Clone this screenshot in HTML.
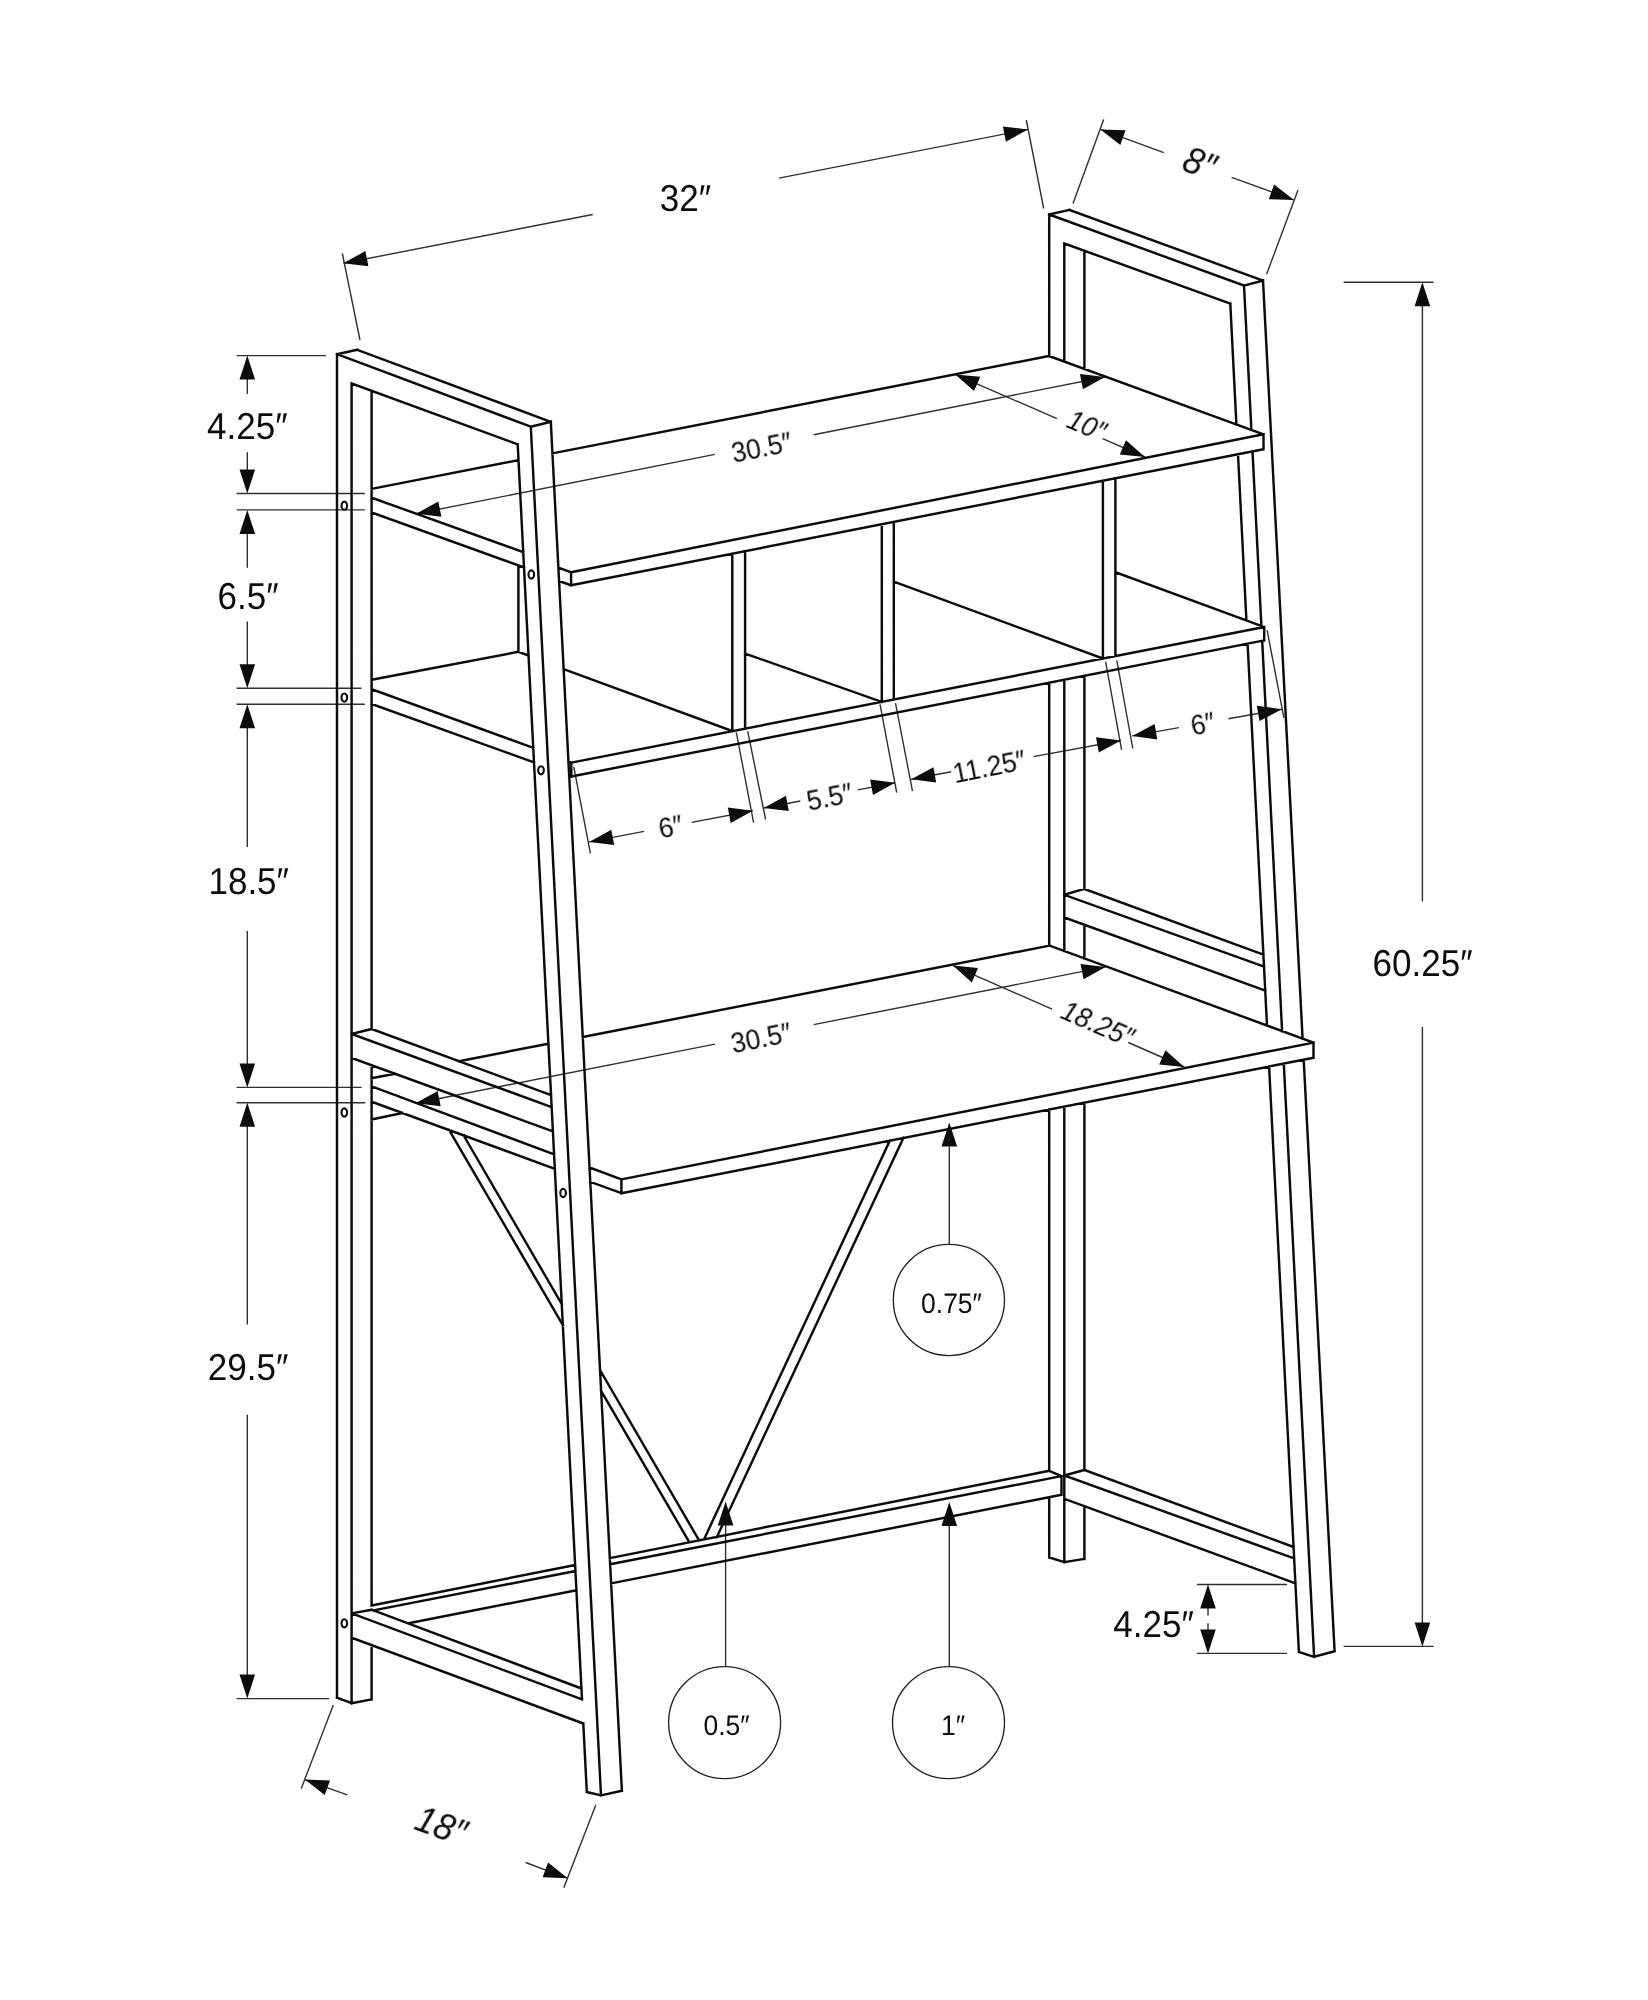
<!DOCTYPE html>
<html lang="en"><head><meta charset="utf-8"><title>Ladder desk dimensions</title>
<style>
html,body{margin:0;padding:0;background:#fff}
svg{display:block}
.k{fill:none;stroke:#0c0c0c;stroke-width:2.45;stroke-linecap:square;stroke-linejoin:miter}
.n{fill:none;stroke:#303030;stroke-width:1.4}
.a{fill:#0c0c0c;stroke:none}
.h{fill:none;stroke:#0c0c0c;stroke-width:2.1}
.c{fill:none;stroke:#222;stroke-width:1.35}
text{font-family:"Liberation Sans",Arial,sans-serif;fill:#0c0c0c;text-anchor:middle;text-rendering:geometricPrecision}
.i{font-style:italic}
</style></head><body>
<svg width="1648" height="2000" viewBox="0 0 1648 2000">
<rect width="1648" height="2000" fill="#fff"/>
<path class="n" d="M342.3 253.3L360.0 340.0M1026.3 120.0L1043.7 208.5M343.3 263.3L592.7 214.5M779.0 178.1L1028.0 129.4M1103.7 119.4L1073.0 203.5M1298.0 190.1L1266.6 274.2M1100.4 129.4L1163.8 152.6M1231.6 177.3L1294.0 200.1M236.6 355.6L326.0 355.6M236.6 493.5L364.8 493.5M236.6 509.9L364.8 509.9M236.6 688.3L361.5 688.3M236.6 704.2L364.8 704.2M236.6 1087.4L361.6 1087.4M236.6 1102.7L365.2 1102.7M236.6 1698.6L329.2 1698.6M247.3 378.6L247.3 394.1M247.3 452.3L247.3 470.5M247.3 532.9L247.3 567.7M247.3 621.6L247.3 665.3M247.3 727.2L247.3 846.9M247.3 931.0L247.3 1064.4M247.3 1125.7L247.3 1324.4M247.3 1414.7L247.3 1675.6M1343.6 282.2L1433.6 282.2M1343.6 1646.4L1433.6 1646.4M1422.4 305.2L1422.4 901.5M1422.4 1027.0L1422.4 1623.4M1196.9 1584.5L1287.0 1584.5M1196.9 1653.4L1287.0 1653.4M1208.0 1607.0L1208.0 1615.5M1208.0 1623.3L1208.0 1630.5M333.3 1705.0L301.3 1788.4M595.8 1804.9L563.8 1887.7M304.8 1779.6L347.2 1794.9M525.6 1862.5L567.8 1878.3M416.3 513.7L714.9 454.4M813.7 434.8L1105.0 377.0M955.2 374.4L1057.0 418.7M1102.6 438.6L1144.9 457.0M573.8 766.8L590.4 853.4M736.3 732.4L753.6 822.7M747.7 731.1L765.6 819.5M589.2 841.9L644.1 831.4M691.7 822.4L752.8 810.7M763.8 808.0L800.3 801.0M857.8 789.9L895.1 782.7M880.0 704.4L896.7 792.5M895.5 703.1L912.5 791.2M911.2 779.2L951.2 771.8M1033.5 756.6L1121.0 740.5M1105.6 661.7L1121.6 749.8M1116.8 660.3L1132.8 748.5M1132.3 735.9L1179.0 727.6M1228.4 718.7L1281.8 709.2M1267.1 630.2L1283.9 717.8M415.6 1103.2L714.9 1044.1M813.7 1024.6L1105.6 966.9M952.9 965.6L1052.1 1009.1M1128.3 1042.5L1184.3 1067.0M949.3 1144.5L949.3 1244.4M725.6 1523.5L725.6 1666.6M949.3 1524.0L949.3 1666.6"/>
<path class="k" d="M337.0 354.2L357.2 349.8M357.2 349.8L550.8 421.8M550.8 421.8L530.8 426.7M530.8 426.7L337.0 354.2M351.6 383.4L517.7 444.3M337.0 354.2L337.0 1697.7M351.6 383.4L351.6 1703.2M371.6 390.7L371.6 1029.0M371.6 1065.3L371.6 1605.5M371.6 1645.1L371.6 1699.4M337.0 1697.7L351.6 1703.2M351.6 1703.2L371.6 1699.4M517.7 444.3L582.0 1699.3M583.3 1723.5L586.8 1792.0M530.8 426.7L601.0 1795.4M550.8 421.8L621.9 1790.8M586.8 1792.0L601.0 1795.4M601.0 1795.4L621.9 1790.8M371.6 497.7L523.2 552.1M371.6 512.4L524.0 567.4M371.6 689.2L533.3 747.8M371.6 703.9L534.0 762.4M371.6 1029.0L551.1 1095.1M351.6 1034.0L551.7 1107.1M351.6 1058.0L552.9 1131.3M351.6 1034.0L371.6 1029.0M351.6 1613.4L371.6 1609.8M371.6 1609.8L373.4 1610.4M373.4 1610.4L581.5 1688.5M351.6 1613.4L582.0 1699.3M351.6 1637.7L583.3 1723.5M1049.2 214.5L1069.5 209.9M1069.5 209.9L1263.0 280.6M1263.0 280.6L1244.0 285.6M1244.0 285.6L1049.2 214.5M1064.3 243.5L1230.3 303.6M1049.2 214.5L1049.2 356.1M1064.3 243.5L1064.3 361.6M1084.4 250.8L1084.4 369.0M1049.2 682.6L1049.2 945.5M1064.3 679.7L1064.3 951.0M1084.4 675.7L1084.4 888.9M1084.4 924.8L1084.4 958.4M1084.4 888.9L1263.4 954.6M1064.3 894.8L1264.0 966.6M1064.3 917.5L1265.3 990.7M1064.3 894.8L1084.4 888.9M1049.2 1109.5L1049.2 1470.8M1049.2 1498.3L1049.2 1557.5M1064.3 1106.6L1064.3 1562.1M1084.4 1102.6L1084.4 1470.0M1084.4 1506.2L1084.4 1558.9M1049.2 1557.5L1064.3 1562.1M1064.3 1562.1L1084.4 1558.9M1084.4 1470.0L1293.6 1547.0M1064.3 1475.4L1294.1 1558.4M1064.3 1498.8L1295.4 1583.3M1064.3 1475.4L1084.4 1470.0M1230.3 303.6L1236.4 424.4M1238.0 454.2L1246.4 620.5M1247.6 643.7L1267.0 1025.5M1269.1 1066.5L1298.9 1652.0M1244.0 285.6L1251.4 429.9M1252.5 451.4L1261.4 626.0M1262.2 640.8L1282.1 1031.1M1283.8 1063.6L1314.1 1656.8M1263.0 280.6L1302.6 1038.6M1303.7 1059.7L1334.6 1651.2M1298.9 1652.0L1314.1 1656.8M1314.1 1656.8L1334.6 1651.2M371.6 488.9L518.5 460.1M552.4 453.4L1048.9 356.0M1048.9 356.0L1263.5 434.3M571.1 572.3L1263.5 434.3M571.1 585.3L1263.5 449.2M571.1 572.3L571.1 585.3M1263.5 434.3L1263.5 449.2M571.1 572.3L558.4 567.6M571.1 585.3L559.1 581.0M571.3 762.6L1264.2 627.0M571.3 776.5L1264.2 640.4M571.3 762.6L571.3 776.5M1264.2 627.0L1264.2 640.4M1115.4 572.2L1261.8 626.2M571.3 762.6L568.4 761.5M571.3 776.5L569.2 775.7M371.6 679.8L518.4 651.8M518.4 566.5L518.4 651.8M518.4 651.8L528.5 655.5M732.3 553.6L732.3 731.1M745.1 551.1L745.1 728.6M881.8 524.2L881.8 701.8M893.8 521.9L893.8 699.5M1102.9 480.8L1102.9 658.6M1115.4 478.3L1115.4 656.1M732.3 731.1L563.6 669.1M881.8 701.9L745.1 653.6M1102.9 658.5L893.8 581.6M371.6 1078.3L394.9 1073.7M459.0 1061.2L548.4 1043.7M582.7 1037.0L1049.5 945.6M1049.5 945.6L1313.5 1042.6M621.4 1179.4L1313.5 1042.6M621.4 1193.2L1313.5 1057.8M621.4 1179.4L621.4 1193.2M1313.5 1042.6L1313.5 1057.8M371.6 1086.4L554.1 1154.3M589.5 1167.5L621.4 1179.4M371.6 1101.7L554.8 1168.8M590.3 1181.8L621.4 1193.2M371.6 1119.5L402.4 1113.0M371.6 1605.5L575.2 1565.0M609.8 1558.1L1049.2 1470.8M373.4 1610.4L575.5 1571.0M610.1 1564.2L1061.5 1476.1M408.6 1623.3L576.5 1590.3M611.1 1583.4L1061.5 1494.8M1049.2 1470.8L1061.5 1476.1M1061.5 1476.1L1061.5 1494.8M463.7 1135.5L561.8 1304.2M449.2 1130.1L562.9 1325.2M600.0 1370.0L699.1 1540.4M601.1 1390.9L689.4 1542.3M889.8 1140.7L704.0 1539.4M903.4 1138.0L716.9 1536.9"/>
<g><ellipse cx="344.3" cy="505.7" rx="2.8" ry="4.1" class="h"/><ellipse cx="344.3" cy="697.6" rx="2.8" ry="4.1" class="h"/><ellipse cx="344.3" cy="1112.5" rx="2.8" ry="4.1" class="h"/><ellipse cx="344.3" cy="1623.3" rx="2.8" ry="4.1" class="h"/><ellipse cx="531.3" cy="574.5" rx="2.8" ry="4.1" class="h"/><ellipse cx="541.0" cy="770.3" rx="2.8" ry="4.1" class="h"/><ellipse cx="563.1" cy="1193.0" rx="2.8" ry="4.1" class="h"/><circle cx="948.9" cy="1300.0" r="55.6" class="c"/><circle cx="724.6" cy="1722.6" r="56.0" class="c"/><circle cx="948.5" cy="1722.6" r="56.0" class="c"/></g>
<path class="a" d="M343.3 263.3L365.4 251.0L368.4 266.3ZM1028.0 129.4L1005.9 141.7L1002.9 126.4ZM1100.4 129.4L1125.6 130.3L1120.3 145.0ZM1294.0 200.1L1268.8 199.2L1274.1 184.5ZM247.3 355.6L255.1 379.6L239.5 379.6ZM247.3 493.5L239.5 469.5L255.1 469.5ZM247.3 509.9L255.1 533.9L239.5 533.9ZM247.3 688.3L239.5 664.3L255.1 664.3ZM247.3 704.2L255.1 728.2L239.5 728.2ZM247.3 1087.4L239.5 1063.4L255.1 1063.4ZM247.3 1102.7L255.1 1126.7L239.5 1126.7ZM247.3 1698.6L239.5 1674.6L255.1 1674.6ZM1422.4 282.2L1430.2 306.2L1414.6 306.2ZM1422.4 1646.4L1414.6 1622.4L1430.2 1622.4ZM1208.0 1584.5L1215.8 1608.5L1200.2 1608.5ZM1208.0 1653.4L1200.2 1629.4L1215.8 1629.4ZM304.8 1779.6L330.0 1780.4L324.7 1795.1ZM567.8 1878.3L542.6 1877.2L548.1 1862.6ZM416.3 513.7L438.3 501.4L441.4 516.7ZM1105.0 377.0L1083.0 389.3L1079.9 374.0ZM955.2 374.4L980.3 376.8L974.1 391.1ZM1144.9 457.0L1119.8 454.6L1126.0 440.3ZM589.2 841.9L611.3 829.7L614.2 845.1ZM752.8 810.7L730.7 822.9L727.8 807.5ZM763.8 808.0L785.9 795.8L788.8 811.1ZM895.1 782.7L873.0 794.9L870.1 779.6ZM911.2 779.2L933.4 767.2L936.2 782.5ZM1121.0 740.5L1098.8 752.5L1096.0 737.2ZM1132.3 735.9L1154.6 724.0L1157.3 739.4ZM1281.8 709.2L1259.5 721.1L1256.8 705.7ZM415.6 1103.2L437.6 1090.9L440.7 1106.2ZM1105.6 966.9L1083.6 979.2L1080.5 963.9ZM952.9 965.6L978.0 968.1L971.8 982.4ZM1184.3 1067.0L1159.2 1064.5L1165.4 1050.2ZM949.3 1122.5L957.1 1146.5L941.5 1146.5ZM725.6 1501.5L733.4 1525.5L717.8 1525.5ZM949.3 1502.0L957.1 1526.0L941.5 1526.0Z"/>
<g opacity="0.995">
<text x="0" y="12.4" font-size="37.5" transform="translate(685.5 198.5) scale(0.935 1)">32″</text>
<text x="0" y="12.4" font-size="37.5" class="i" transform="translate(1199.3 163.7) rotate(20.0) scale(0.935 1)">8″</text>
<text x="0" y="12.4" font-size="37.5" transform="translate(247.4 426.5) scale(0.935 1)">4.25″</text>
<text x="0" y="12.4" font-size="37.5" transform="translate(248.1 597.0) scale(0.935 1)">6.5″</text>
<text x="0" y="12.4" font-size="37.5" transform="translate(248.7 881.9) scale(0.935 1)">18.5″</text>
<text x="0" y="12.4" font-size="37.5" transform="translate(248.0 1367.8) scale(0.935 1)">29.5″</text>
<text x="0" y="12.4" font-size="37.5" transform="translate(1422.7 963.3) scale(0.935 1)">60.25″</text>
<text x="0" y="12.4" font-size="37.5" transform="translate(1153.6 1624.3) scale(0.935 1)">4.25″</text>
<text x="0" y="12.4" font-size="37.5" class="i" transform="translate(440.9 1826.2) rotate(20.0) scale(0.935 1)">18″</text>
<text x="0" y="9.2" font-size="28.3" transform="translate(761.6 448.0) rotate(-11.3) scale(0.935 1)">30.5″</text>
<text x="0" y="9.2" font-size="28.3" class="i" transform="translate(1086.5 426.0) rotate(23.0) scale(0.935 1)">10″</text>
<text x="0" y="9.2" font-size="28.3" transform="translate(670.8 827.3) rotate(-11.3) scale(0.935 1)">6″</text>
<text x="0" y="9.2" font-size="28.3" transform="translate(829.7 797.4) rotate(-11.3) scale(0.935 1)">5.5″</text>
<text x="0" y="9.2" font-size="28.3" transform="translate(989.4 767.2) rotate(-11.3) scale(0.935 1)">11.25″</text>
<text x="0" y="9.2" font-size="28.3" transform="translate(1203.0 724.4) rotate(-11.3) scale(0.935 1)">6″</text>
<text x="0" y="9.2" font-size="28.3" transform="translate(761.1 1038.5) rotate(-11.3) scale(0.935 1)">30.5″</text>
<text x="0" y="9.2" font-size="28.3" class="i" transform="translate(1097.5 1024.3) rotate(23.5) scale(0.935 1)">18.25″</text>
<text x="0" y="9.2" font-size="28.3" transform="translate(951.5 1303.5) scale(0.935 1)">0.75″</text>
<text x="0" y="9.2" font-size="28.3" transform="translate(726.5 1726.0) scale(0.935 1)">0.5″</text>
<text x="0" y="9.2" font-size="28.3" transform="translate(953.0 1726.0) scale(0.935 1)">1″</text>
</g>
</svg></body></html>
